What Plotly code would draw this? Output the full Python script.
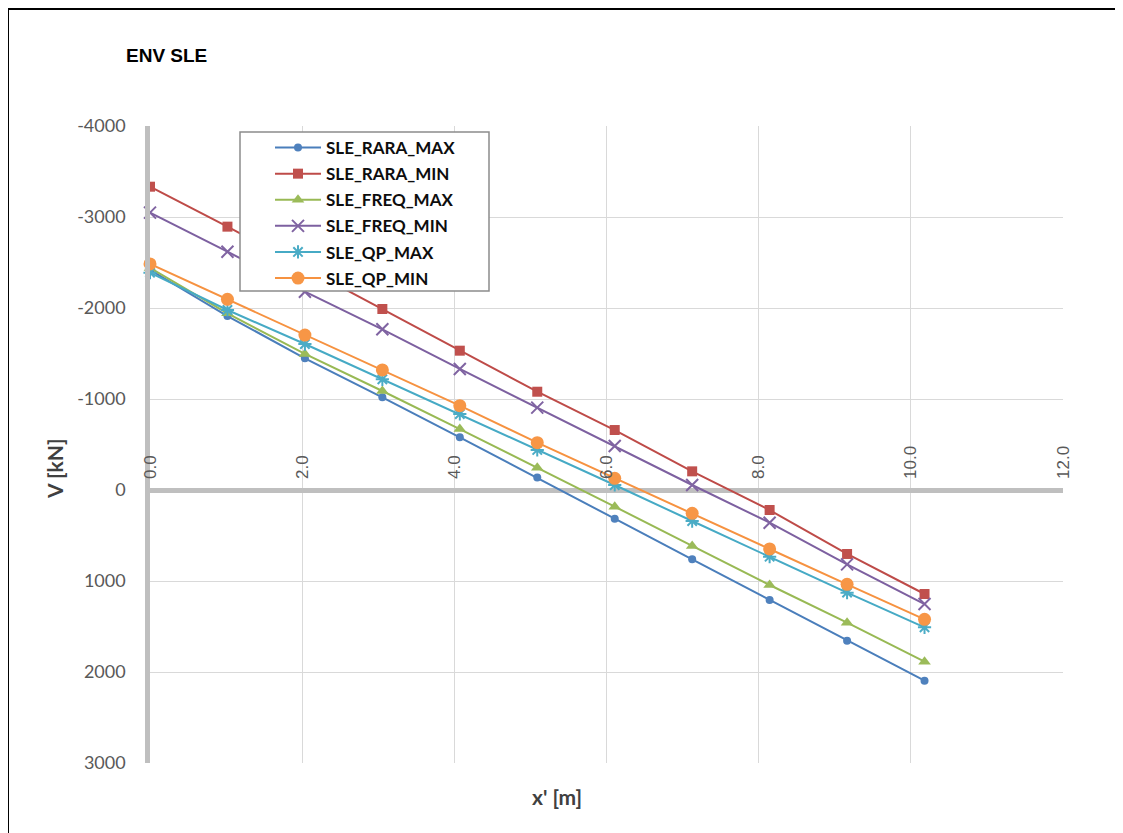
import plotly.graph_objects as go

x_m = [0.0, 1.018, 2.036, 3.054, 4.072, 5.09, 6.108, 7.126, 8.144, 9.162, 10.18]

series_names = ["SLE_RARA_MAX", "SLE_RARA_MIN", "SLE_FREQ_MAX", "SLE_FREQ_MIN", "SLE_QP_MAX", "SLE_QP_MIN"]
sle_rara_max = [-2420, -1912, -1447, -1018, -579, -136, 315, 762, 1209, 1656, 2095]
sle_rara_min = [-3333, -2894, -2440, -1989, -1531, -1080, -659, -205, 220, 703, 1143]
sle_freq_max = [-2440, -1941, -1495, -1088, -670, -245, 183, 615, 1044, 1458, 1886]
sle_freq_min = [-3048, -2619, -2179, -1766, -1330, -905, -484, -55, 359, 817, 1253]
sle_qp_max = [-2388, -1978, -1604, -1216, -835, -440, -55, 341, 733, 1128, 1509]
sle_qp_min = [-2484, -2095, -1703, -1319, -927, -520, -128, 256, 648, 1037, 1421]

x_ticks = [0, 2, 4, 6, 8, 10, 12]
x_tick_labels = ["0.0", "2.0", "4.0", "6.0", "8.0", "10.0", "12.0"]
y_ticks = [-4000, -3000, -2000, -1000, 0, 1000, 2000, 3000]
y_tick_labels = ["-4000", "-3000", "-2000", "-1000", "0", "1000", "2000", "3000"]

styles = [
    dict(line="#4A7EBB", fill="#4F81BD", symbol="circle", size=8),
    dict(line="#BE4B48", fill="#C0504D", symbol="square", size=10),
    dict(line="#98B954", fill="#9BBB59", symbol="triangle-up", size=11),
    dict(line="#7D60A0", fill="#8064A2", symbol="x-thin-open", size=12),
    dict(line="#46AAC5", fill="#4BACC6", symbol="asterisk-open", size=11),
    dict(line="#F69240", fill="#F79646", symbol="circle", size=13),
]
data = [sle_rara_max, sle_rara_min, sle_freq_max, sle_freq_min, sle_qp_max, sle_qp_min]

fig = go.Figure()
for name, vals, st in zip(series_names, data, styles):
    open_sym = st["symbol"].endswith("open")
    fig.add_trace(go.Scatter(
        x=x_m, y=vals, name=name, mode="lines+markers",
        legendgroup=name,
        line=dict(color=st["line"], width=2),
        marker=dict(symbol=st["symbol"], size=st["size"],
                    color=st["fill"],
                    line=dict(color=st["fill"], width=2 if open_sym else 0)),
        cliponaxis=False,
    ))

OFF = 8  # page offset of the figure inside the browser window
W, H = 1123 - OFF, 833 - OFF
L, R, T, B = 150 - OFF, 60, 126 - OFF, 70
pw, ph = W - L - R, H - T - B

def px(xw):
    return (xw - OFF - L) / pw

def py(yw):
    return (H - B - (yw - OFF)) / ph

fig.update_layout(
    width=W, height=H,
    margin=dict(l=L, r=R, t=T, b=B),
    paper_bgcolor="white", plot_bgcolor="white",
    showlegend=True,
    legend=dict(x=px(270), y=py(130), xanchor="left", yanchor="top",
                bgcolor="rgba(0,0,0,0)", borderwidth=0,
                font=dict(family="Lato", size=17, color="#0d0d0d", weight="bold"),
                itemwidth=46, tracegroupgap=1),
    xaxis=dict(range=[0, 12], tickvals=x_ticks, ticktext=x_tick_labels,
               showgrid=True, gridcolor="#d9d9d9", gridwidth=1,
               zeroline=False, showline=False,
               anchor="free", position=3/7, side="top",
               tickangle=-90, ticks="", ticklabelstandoff=11,
               tickfont=dict(family="Liberation Sans", size=17, color="#595959")),
    yaxis=dict(range=[3000, -4000], tickvals=y_ticks, ticktext=y_tick_labels,
               showgrid=True, gridcolor="#d9d9d9", gridwidth=1,
               zeroline=True, zerolinecolor="#bfbfbf", zerolinewidth=4.5,
               showline=True, linecolor="#bfbfbf", linewidth=4.5,
               ticks="", ticklabelstandoff=16,
               tickfont=dict(family="Lato", size=18, color="#595959")),
)

# legend frame (opaque, covers the lines beneath, as in the original)
fig.add_shape(type="rect", xref="paper", yref="paper",
              x0=px(240), x1=px(489), y0=py(291), y1=py(132),
              line=dict(color="#8c8c8c", width=1.5), fillcolor="white", layer="above")
# chart border
fig.add_shape(type="rect", xref="paper", yref="paper",
              x0=px(8), x1=px(1140), y0=py(850), y1=py(9),
              line=dict(color="black", width=2), fillcolor="rgba(0,0,0,0)")

fig.add_annotation(text="ENV SLE", xref="paper", yref="paper",
                   x=px(124), y=py(56), xanchor="left", yanchor="middle", showarrow=False,
                   font=dict(family="Liberation Sans", size=19, color="black", weight="bold"))
fig.add_annotation(text="x' [m]", xref="paper", yref="paper",
                   x=px(557), y=py(797), xanchor="center", yanchor="middle", showarrow=False,
                   font=dict(family="Lato", size=21, color="#404040", weight="bold"))
fig.add_annotation(text="V [kN]", xref="paper", yref="paper",
                   x=px(54), y=py(469), xanchor="center", yanchor="middle", showarrow=False,
                   textangle=-90,
                   font=dict(family="Lato", size=21, color="#404040", weight="bold"))

fig.write_html("out.html")
